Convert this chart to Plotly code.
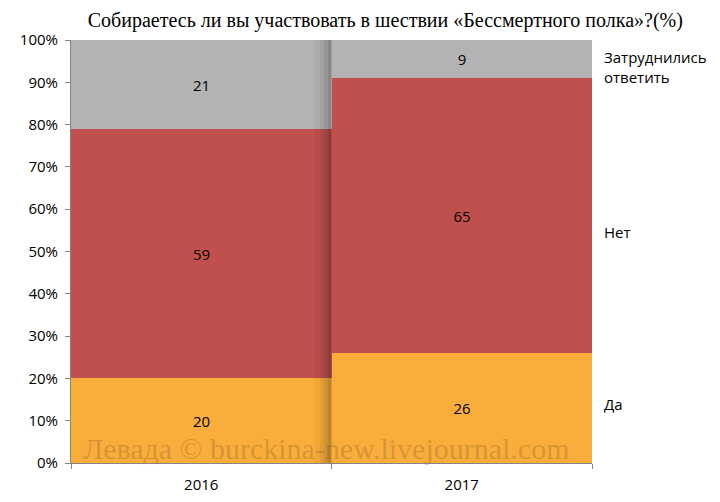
import plotly.graph_objects as go

years = ["2016", "2017"]
da = [20, 26]
net = [59, 65]
zatr = [21, 9]
series_names = ["Да", "Нет", "Затруднились<br>ответить"]
colors = ["#F9AE3B", "#C0504D", "#B3B3B3"]
title = "Собираетесь ли вы участвовать в шествии «Бессмертного полка»?(%)"
watermark = "Левада © burckina-new.livejournal.com"

SANS = "Open Sans, Liberation Sans, sans-serif"
SERIF = "Liberation Serif, DejaVu Serif, serif"

fig = go.Figure()
for name, vals, col in zip(series_names, [da, net, zatr], colors):
    fig.add_trace(go.Bar(
        x=years, y=vals, name=name, marker=dict(color=col, line=dict(width=0)),
        text=[str(v) for v in vals], textposition="inside", insidetextanchor="middle",
        textfont=dict(family=SANS, size=15, color="#000000"),
        hoverinfo="skip",
    ))

# shadow strip along right edge of first bar (decoration)
steps = [(0.435, 0.455, 0.04), (0.455, 0.47, 0.09), (0.47, 0.485, 0.16), (0.485, 0.5, 0.24)]
for x0, x1, op in steps:
    fig.add_shape(type="rect", xref="x", yref="y", x0=x0, x1=x1, y0=0, y1=100,
                  fillcolor="black", opacity=op, line=dict(width=0), layer="above")

# right-side series labels (placement in paper fraction of plot height)
label_pos = [0.139, 0.546, 0.936]
for name, py in zip(series_names, label_pos):
    fig.add_annotation(x=1.02, xref="paper", y=py, yref="paper", text=name, showarrow=False,
                       xanchor="left", yanchor="middle", align="left",
                       font=dict(family=SANS, size=15, color="#000000"))

fig.add_annotation(x=0.49, xref="paper", y=0.035, yref="paper", text=watermark, showarrow=False,
                   xanchor="center", yanchor="middle",
                   font=dict(family=SERIF, size=30, color="rgba(150,100,40,0.35)"))

fig.update_layout(
    barmode="stack", bargap=0, showlegend=False,
    width=720, height=502,
    margin=dict(l=58, r=136, t=32, b=47),
    paper_bgcolor="white", plot_bgcolor="white",
    title=dict(text=title, x=0.524, xanchor="center", y=0.976, yanchor="middle",
               font=dict(family=SERIF, size=20, color="#000000")),
    uniformtext=dict(mode="show", minsize=10),
)
fig.update_yaxes(range=[0, 100], dtick=10, ticksuffix="%", showgrid=False,
                 showline=True, linecolor="#868686", linewidth=1,
                 ticks="outside", ticklen=5, tickcolor="#868686", ticklabelstandoff=4,
                 tickfont=dict(family=SANS, size=15, color="#000000"),
                 fixedrange=True)
fig.update_xaxes(showline=True, linecolor="#868686", linewidth=1,
                 ticks="outside", tickson="boundaries", ticklen=5, tickcolor="#868686",
                 ticklabelstandoff=8,
                 tickfont=dict(family=SANS, size=15, color="#000000"),
                 showgrid=False)

fig.write_html("out.html")
